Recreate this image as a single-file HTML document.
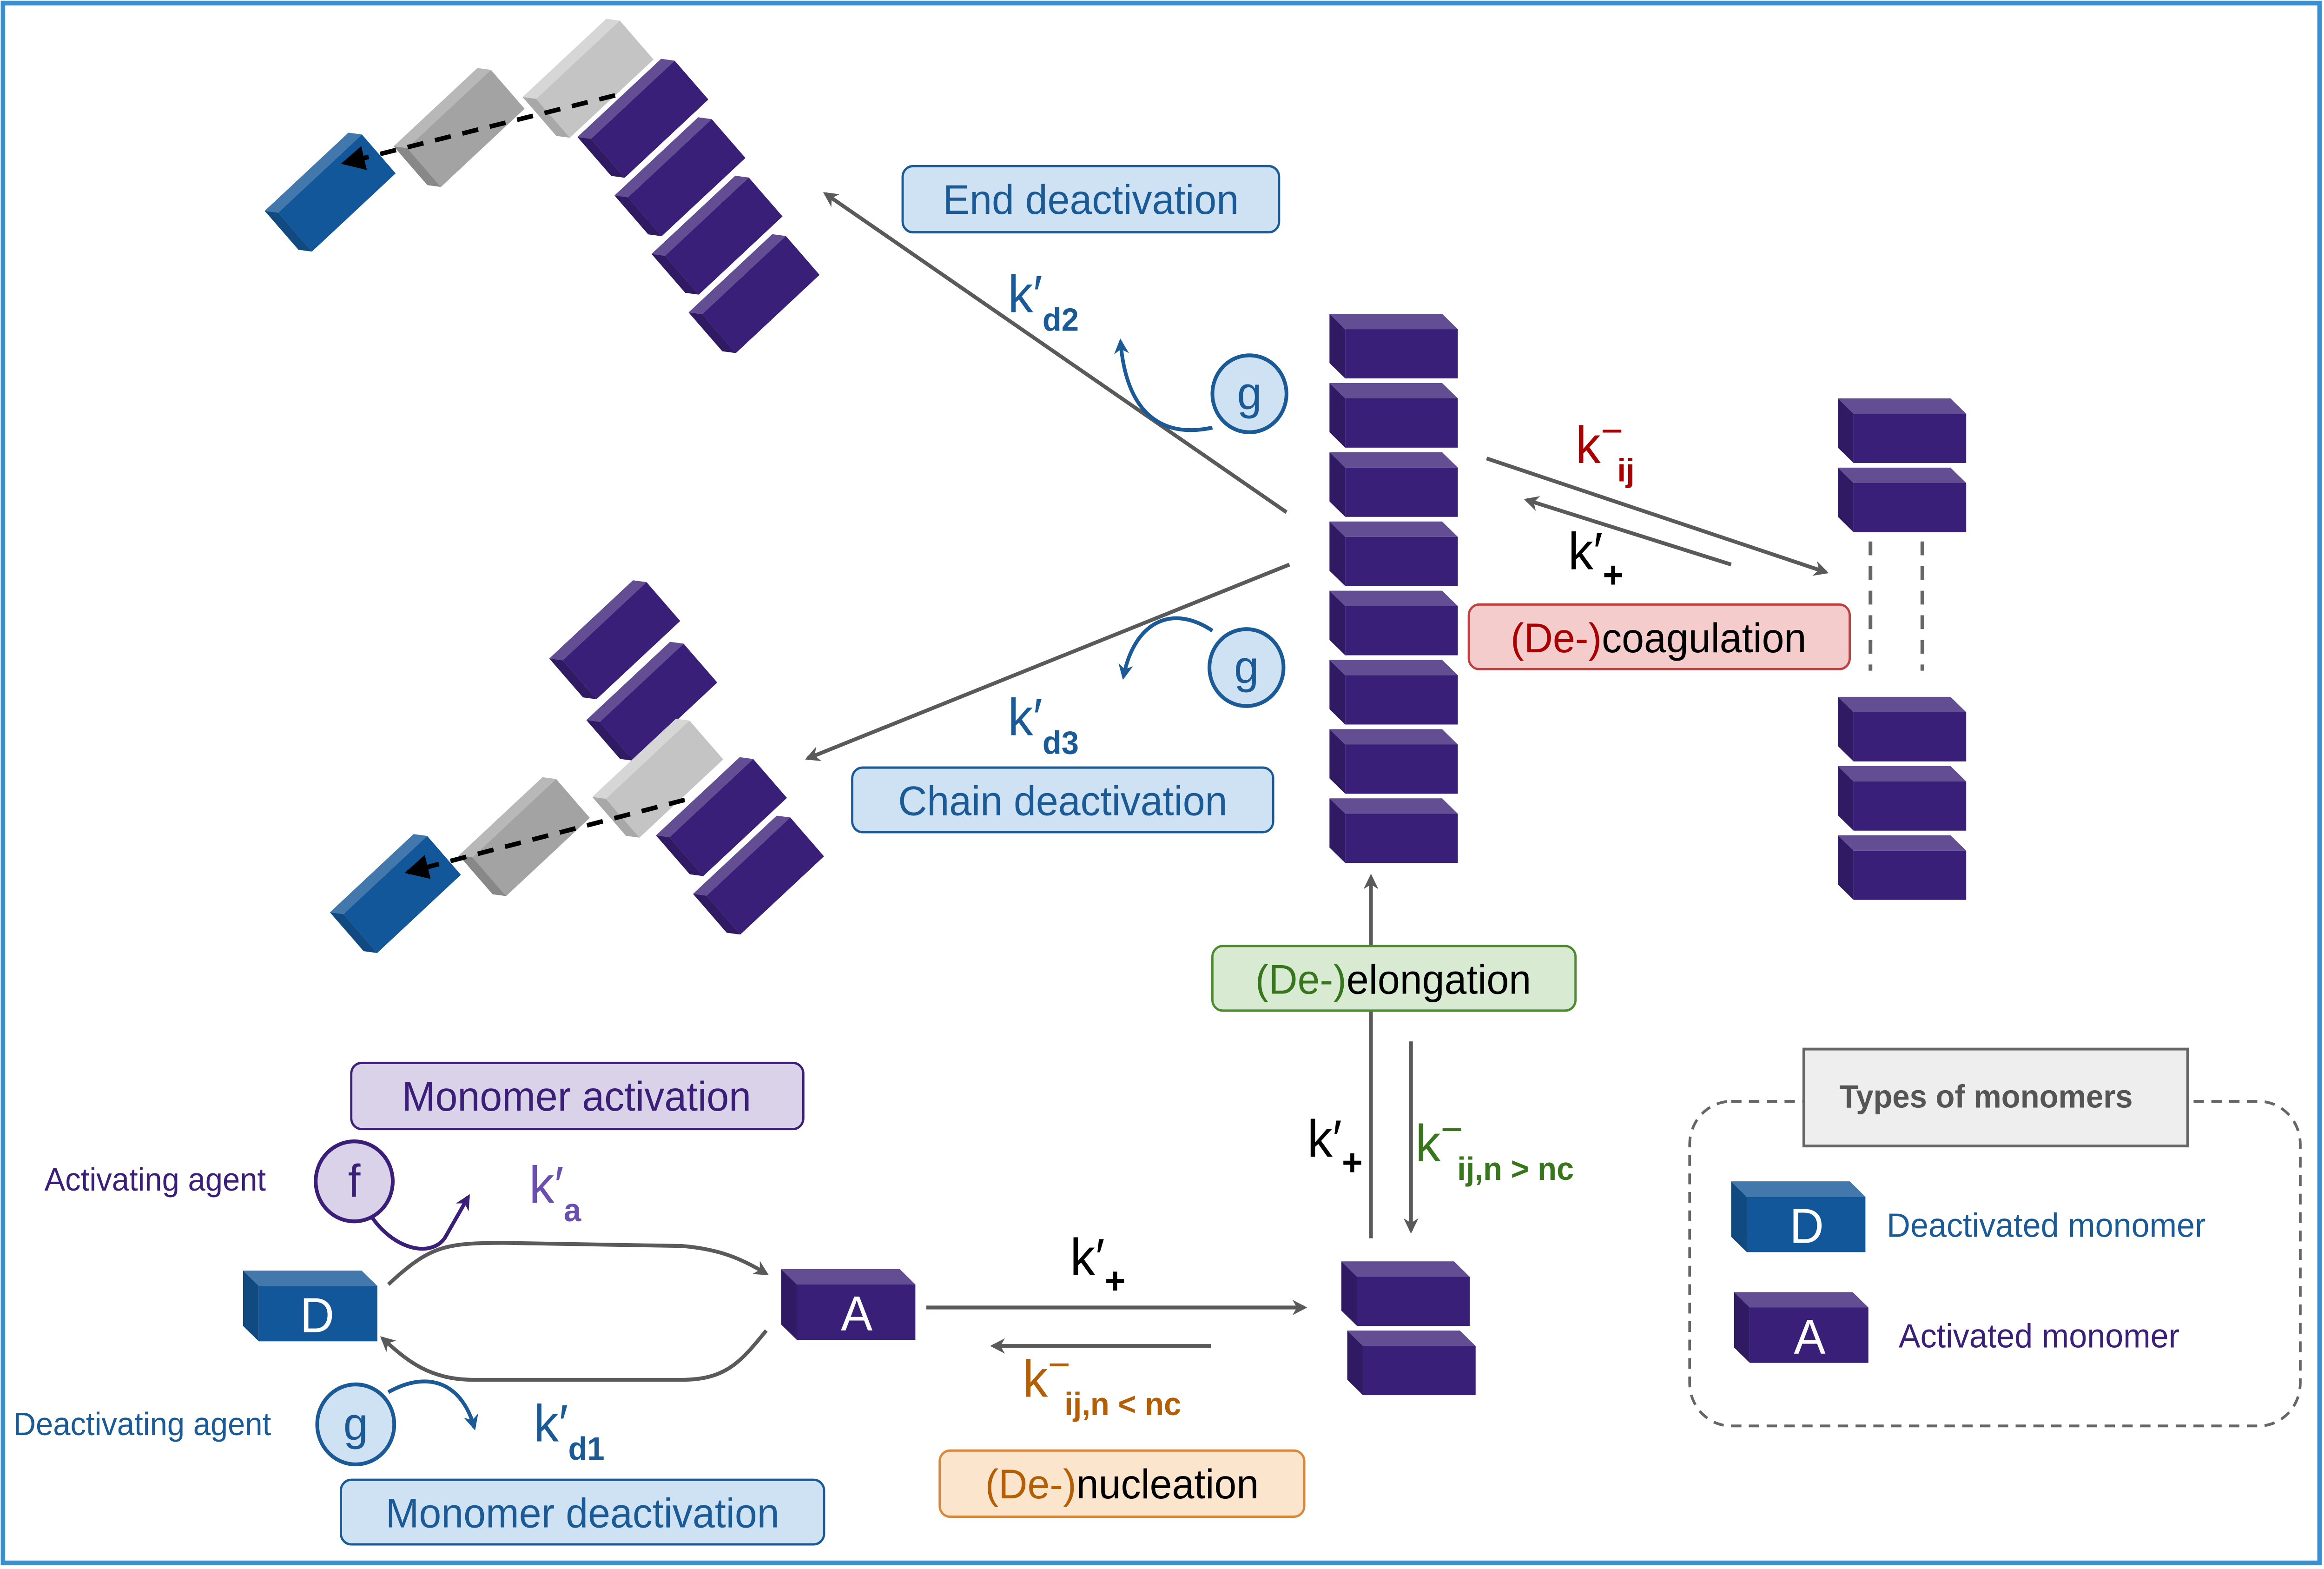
<!DOCTYPE html>
<html><head><meta charset="utf-8"><style>
html,body{margin:0;padding:0;background:#fff;overflow:hidden;width:100%;height:100%}
svg{display:block;position:absolute;left:0;top:0;width:100vw;height:100vh}
text{font-family:"Liberation Sans",sans-serif}
</style></head><body>
<svg viewBox="0 0 1568 1020" preserveAspectRatio="none" xmlns="http://www.w3.org/2000/svg">
<defs>
<marker id="ag" markerWidth="10" markerHeight="10" refX="8" refY="5" orient="auto" markerUnits="userSpaceOnUse" viewBox="0 0 10 10"><path d="M0,0 L10,5 L0,10 L3,5Z" fill="#5a5a5a"/></marker>
<marker id="ab" markerWidth="10" markerHeight="10" refX="8" refY="5" orient="auto" markerUnits="userSpaceOnUse" viewBox="0 0 10 10"><path d="M0,0 L10,5 L0,10 L3,5Z" fill="#1a5a96"/></marker>
<marker id="ap" markerWidth="10" markerHeight="10" refX="8" refY="5" orient="auto" markerUnits="userSpaceOnUse" viewBox="0 0 10 10"><path d="M0,0 L10,5 L0,10 L3,5Z" fill="#3b1e78"/></marker>
<marker id="ak" markerWidth="16" markerHeight="16" refX="14" refY="8" orient="auto" markerUnits="userSpaceOnUse" viewBox="0 0 16 16"><path d="M0,0 L16,8 L0,16Z" fill="#000"/></marker>
<g id="vb"><polygon points="0,0 10.6,10 10.6,42 0,32" fill="#2f1a63"/><polygon points="0,0 76,0 86.6,10 10.6,10" fill="#634d93"/><rect x="10.6" y="10" width="76" height="32" fill="#3a1f78"/></g>
<g id="vbb"><polygon points="0,0 10.6,10 10.6,46 0,36" fill="#104a80"/><polygon points="0,0 80,0 90.6,10 10.6,10" fill="#4378ad"/><rect x="10.6" y="10" width="80" height="36" fill="#125799"/></g>
<g id="vbp"><polygon points="0,0 10.6,10 10.6,46 0,36" fill="#2f1a63"/><polygon points="0,0 80,0 90.6,10 10.6,10" fill="#634d93"/><rect x="10.6" y="10" width="80" height="36" fill="#3a1f78"/></g>
<g id="tp"><rect x="-38" y="-15" width="76" height="34" fill="#3a1f78"/><polygon points="-44,-22 32,-22 38,-15 -38,-15" fill="#634d93"/><polygon points="-44,-22 -38,-15 -38,19 -44,12" fill="#2f1a63"/></g>
<g id="tb"><rect x="-38" y="-15" width="76" height="34" fill="#125799"/><polygon points="-44,-22 32,-22 38,-15 -38,-15" fill="#4378ad"/><polygon points="-44,-22 -38,-15 -38,19 -44,12" fill="#104a80"/></g>
<g id="tg1"><rect x="-38" y="-15" width="76" height="34" fill="#a3a3a3"/><polygon points="-44,-22 32,-22 38,-15 -38,-15" fill="#b8b8b8"/><polygon points="-44,-22 -38,-15 -38,19 -44,12" fill="#888"/></g>
<g id="tg2"><rect x="-38" y="-15" width="76" height="34" fill="#c4c4c4"/><polygon points="-44,-22 32,-22 38,-15 -38,-15" fill="#d6d6d6"/><polygon points="-44,-22 -38,-15 -38,19 -44,12" fill="#a8a8a8"/></g>
</defs>
<rect x="2" y="2" width="1563" height="1014" fill="none" stroke="#3a8fd0" stroke-width="3"/>

<!-- top tilted chain -->
<use href="#tb" transform="translate(226,124) rotate(-42)"/>
<use href="#tg1" transform="translate(313,82) rotate(-42)"/>
<use href="#tg2" transform="translate(400,50) rotate(-42)"/>
<use href="#tp" transform="translate(437,76) rotate(-42)"/>
<use href="#tp" transform="translate(462,114) rotate(-42)"/>
<use href="#tp" transform="translate(487,152) rotate(-42)"/>
<use href="#tp" transform="translate(512,190) rotate(-42)"/>
<line x1="415" y1="62" x2="232" y2="106" stroke="#000" stroke-width="3" stroke-dasharray="11 8" marker-end="url(#ak)"/>

<!-- bottom tilted chain -->
<use href="#tp" transform="translate(418,415) rotate(-42)"/>
<use href="#tp" transform="translate(443,455) rotate(-42)"/>
<use href="#tb" transform="translate(270,580) rotate(-42)"/>
<use href="#tg1" transform="translate(357,543) rotate(-42)"/>
<use href="#tg2" transform="translate(447,505) rotate(-42)"/>
<use href="#tp" transform="translate(490,530) rotate(-42)"/>
<use href="#tp" transform="translate(515,568) rotate(-42)"/>
<line x1="462" y1="520" x2="275" y2="567" stroke="#000" stroke-width="3" stroke-dasharray="11 8" marker-end="url(#ak)"/>

<!-- center stack -->
<use href="#vb" x="897" y="204"/><use href="#vb" x="897" y="249"/><use href="#vb" x="897" y="294"/><use href="#vb" x="897" y="339"/>
<use href="#vb" x="897" y="384"/><use href="#vb" x="897" y="429"/><use href="#vb" x="897" y="474"/><use href="#vb" x="897" y="519"/>
<!-- right stack -->
<use href="#vb" x="1240" y="259"/><use href="#vb" x="1240" y="304"/>
<use href="#vb" x="1240" y="453"/><use href="#vb" x="1240" y="498"/><use href="#vb" x="1240" y="543"/>
<line x1="1262" y1="352" x2="1262" y2="436" stroke="#666" stroke-width="2.5" stroke-dasharray="9 7"/>
<line x1="1297" y1="352" x2="1297" y2="436" stroke="#666" stroke-width="2.5" stroke-dasharray="9 7"/>
<!-- small stack -->
<use href="#vb" x="905" y="820"/><use href="#vb" x="909" y="865"/>

<!-- D and A blocks -->
<use href="#vbb" x="164" y="826"/><text x="214" y="866" font-size="32" fill="#fff" text-anchor="middle">D</text>
<use href="#vbp" x="527" y="825"/><text x="578" y="865" font-size="32" fill="#fff" text-anchor="middle">A</text>

<!-- arrows -->
<g stroke="#5a5a5a" stroke-width="2.5" fill="none">
<line x1="868" y1="333" x2="557" y2="126" marker-end="url(#ag)"/>
<line x1="870" y1="367" x2="545" y2="493" marker-end="url(#ag)"/>
<line x1="1003" y1="298" x2="1232" y2="372" marker-end="url(#ag)"/>
<line x1="1168" y1="367" x2="1030" y2="325" marker-end="url(#ag)"/>
<line x1="925" y1="805" x2="925" y2="570" marker-end="url(#ag)"/>
<line x1="952" y1="677" x2="952" y2="800" marker-end="url(#ag)"/>
<line x1="625" y1="850" x2="880" y2="850" marker-end="url(#ag)"/>
<line x1="817" y1="875" x2="670" y2="875" marker-end="url(#ag)"/>
<path d="M262,835 C290,810 300,808 340,808 L460,810 C485,812 500,818 517,828" marker-end="url(#ag)"/>
<path d="M517,865 C500,885 490,897 460,897 L320,897 C290,897 275,885 258,870" marker-end="url(#ag)"/>
</g>

<!-- agents -->
<g stroke="#1a5a96" stroke-width="2.5" fill="none">
<path d="M818,278 C785,285 760,270 756,222" marker-end="url(#ab)"/>
<path d="M818,410 C790,392 765,405 758,440" marker-end="url(#ab)"/>
<path d="M262,905 C290,890 312,900 320,928" marker-end="url(#ab)"/>
</g>
<path d="M250,790 C265,812 290,818 300,805 L316,778" stroke="#3b1e78" stroke-width="2.5" fill="none" marker-end="url(#ap)"/>
<circle cx="843" cy="256" r="25" fill="#cfe2f3" stroke="#1a5a96" stroke-width="2.5"/><text x="843" y="266" font-size="30" fill="#1a5a96" text-anchor="middle" font-family="Liberation Serif">g</text>
<circle cx="841" cy="434" r="25" fill="#cfe2f3" stroke="#1a5a96" stroke-width="2.5"/><text x="841" y="444" font-size="30" fill="#1a5a96" text-anchor="middle" font-family="Liberation Serif">g</text>
<circle cx="240" cy="926" r="26" fill="#cfe2f3" stroke="#1a5a96" stroke-width="2.5"/><text x="240" y="936" font-size="30" fill="#1a5a96" text-anchor="middle" font-family="Liberation Serif">g</text>
<circle cx="239" cy="768" r="26" fill="#d9d2e9" stroke="#3b1e78" stroke-width="2.5"/><text x="239" y="778" font-size="30" fill="#3b1e78" text-anchor="middle" font-family="Liberation Serif">f</text>
<text x="30" y="774" font-size="21" fill="#3b1e78">Activating agent</text>
<text x="9" y="933" font-size="21" fill="#1a5a96">Deactivating agent</text>

<!-- label boxes -->
<rect x="609" y="108" width="254" height="43" rx="7" fill="#cfe2f3" stroke="#1a5a96" stroke-width="1.5"/>
<text x="736" y="139" font-size="27" fill="#1a5a96" text-anchor="middle">End deactivation</text>
<rect x="575" y="499" width="284" height="42" rx="7" fill="#cfe2f3" stroke="#1a5a96" stroke-width="1.5"/>
<text x="717" y="530" font-size="27" fill="#1a5a96" text-anchor="middle">Chain deactivation</text>
<rect x="991" y="393" width="257" height="42" rx="7" fill="#f4cccc" stroke="#c04040" stroke-width="1.5"/>
<text x="1119" y="424" font-size="27" text-anchor="middle"><tspan fill="#a00">(De-)</tspan><tspan fill="#000">coagulation</tspan></text>
<rect x="818" y="615" width="245" height="42" rx="7" fill="#d9ead3" stroke="#4e8a2e" stroke-width="1.5"/>
<text x="940" y="646" font-size="27" text-anchor="middle"><tspan fill="#38761d">(De-)</tspan><tspan fill="#000">elongation</tspan></text>
<rect x="237" y="691" width="305" height="43" rx="7" fill="#d9d2e9" stroke="#3b1e78" stroke-width="1.5"/>
<text x="389" y="722" font-size="27" fill="#3b1e78" text-anchor="middle">Monomer activation</text>
<rect x="230" y="962" width="326" height="42" rx="7" fill="#cfe2f3" stroke="#1a5a96" stroke-width="1.5"/>
<text x="393" y="993" font-size="27" fill="#1a5a96" text-anchor="middle">Monomer deactivation</text>
<rect x="634" y="943" width="246" height="43" rx="7" fill="#fce5cd" stroke="#d8883a" stroke-width="1.5"/>
<text x="757" y="974" font-size="27" text-anchor="middle"><tspan fill="#b45f06">(De-)</tspan><tspan fill="#000">nucleation</tspan></text>

<!-- rate labels -->
<text x="680" y="203" font-size="34" fill="#1a5a96">k′<tspan font-size="21" font-weight="bold" dy="12">d2</tspan></text>
<text x="680" y="478" font-size="34" fill="#1a5a96">k′<tspan font-size="21" font-weight="bold" dy="12">d3</tspan></text>
<text x="1063" y="301" font-size="34" fill="#a00">k<tspan dy="-12" font-size="26">−</tspan><tspan font-size="21" font-weight="bold" dy="24" dx="-4">ij</tspan></text>
<text x="1058" y="370" font-size="34" fill="#000">k′<tspan font-size="24" font-weight="bold" dy="12">+</tspan></text>
<text x="882" y="752" font-size="34" fill="#000">k′<tspan font-size="24" font-weight="bold" dy="12">+</tspan></text>
<text x="955" y="755" font-size="34" fill="#38761d">k<tspan dy="-12" font-size="26">−</tspan><tspan font-size="21" font-weight="bold" dy="24" dx="-4">ij,n &gt; nc</tspan></text>
<text x="357" y="782" font-size="34" fill="#6a4fb0">k′<tspan font-size="21" font-weight="bold" dy="12">a</tspan></text>
<text x="722" y="829" font-size="34" fill="#000">k′<tspan font-size="24" font-weight="bold" dy="12">+</tspan></text>
<text x="690" y="908" font-size="34" fill="#b45f06">k<tspan dy="-12" font-size="26">−</tspan><tspan font-size="21" font-weight="bold" dy="24" dx="-4">ij,n &lt; nc</tspan></text>
<text x="360" y="937" font-size="34" fill="#1a5a96">k′<tspan font-size="21" font-weight="bold" dy="12">d1</tspan></text>

<!-- legend -->
<rect x="1140" y="716" width="412" height="211" rx="28" fill="none" stroke="#666" stroke-width="1.8" stroke-dasharray="7 5"/>
<rect x="1217" y="682" width="259" height="63" fill="#eeeeee" stroke="#666" stroke-width="1.8"/>
<text x="1340" y="720" font-size="21" font-weight="bold" fill="#555" text-anchor="middle">Types of monomers</text>
<use href="#vbb" x="1168" y="768"/><text x="1219" y="808" font-size="32" fill="#fff" text-anchor="middle">D</text>
<text x="1273" y="804" font-size="22" fill="#1a5a96">Deactivated monomer</text>
<use href="#vbp" x="1170" y="840"/><text x="1221" y="880" font-size="32" fill="#fff" text-anchor="middle">A</text>
<text x="1281" y="876" font-size="22" fill="#3b1e78">Activated monomer</text>
</svg>
</body></html>
